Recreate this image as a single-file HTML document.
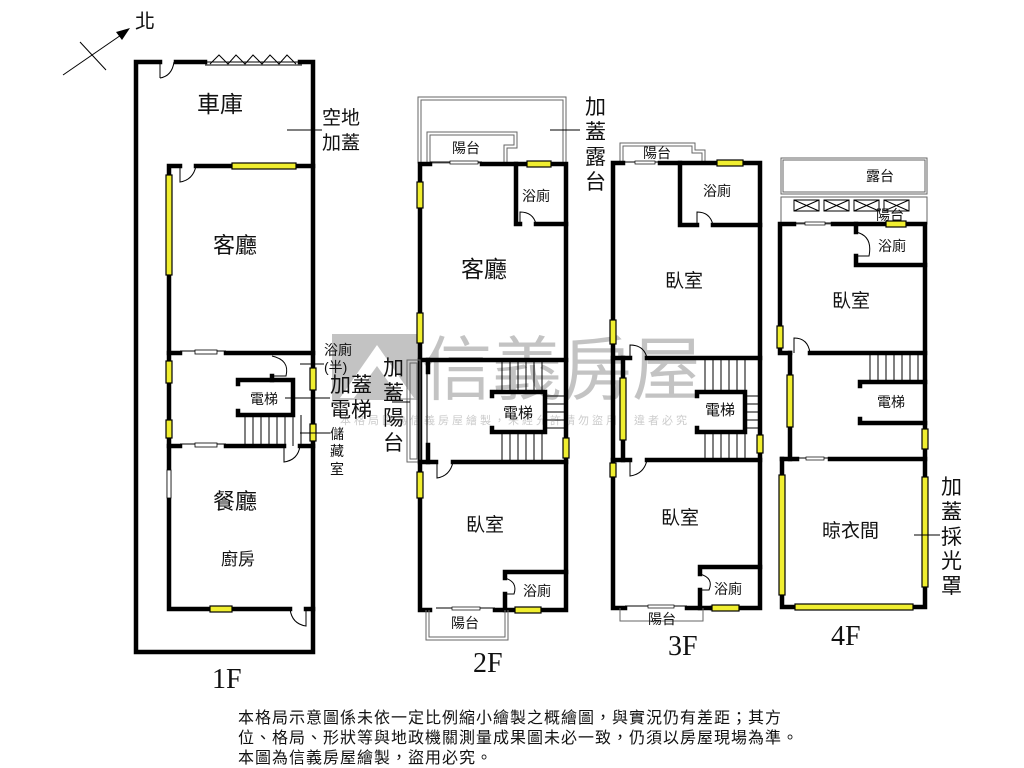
<!DOCTYPE html>
<html><head><meta charset="utf-8"><style>
html,body{margin:0;padding:0;background:#fff}
svg{display:block}
text{font-family:"Liberation Sans","Noto Sans CJK TC",sans-serif;fill:#111}
.w{stroke:#000;stroke-width:4.5;fill:none;stroke-linecap:square}
.t{stroke:#000;stroke-width:1;fill:none}
.g{stroke:#666;stroke-width:1;fill:none}
.y{fill:#f0ee30;stroke:#000;stroke-width:1.2}
.s{stroke:#000;stroke-width:1}
.fl{font-family:"Liberation Serif",serif;font-size:28px}
</style></head><body>
<svg width="1024" height="768" viewBox="0 0 1024 768" xmlns="http://www.w3.org/2000/svg">
<rect width="1024" height="768" fill="#fff"/>
<line x1="63" y1="75" x2="124" y2="33" class="s" stroke-width="2"/>
<polygon points="130,28 116,32 122,40" fill="#000"/>
<line x1="80" y1="42" x2="106" y2="70" class="s" stroke-width="2"/>
<text x="135" y="28" font-size="20">北</text>

<g opacity="0.5">
<rect x="332" y="334" width="90" height="66" fill="#888"/>
<polygon points="340,398 377,345 414,398 400,398 377,366 354,398" fill="#fff"/>
<text x="422" y="394" font-size="70" style="fill:#888">信義房屋</text>
<text x="340" y="424" font-size="11" style="fill:#999" letter-spacing="3">本格局圖為信義房屋繪製，未經允許請勿盜用，違者必究</text>
</g>

<path class="w" d="M160,62 H136 V652 H313 V62 H300"/>
<line x1="176" y1="62" x2="205" y2="62" class="w"/>
<path class="t" d="M160,62 V78 M160,78 Q172,76 174,62"/>
<line x1="205" y1="62" x2="302" y2="62" class="t"/><line x1="205" y1="65" x2="302" y2="65" class="t"/>
<polyline class="t" points="210,64 219,55 228,64 236,55 245,64 253,55 262,64 270,55 279,64 287,55 296,64"/>
<path class="w" d="M180,166 H169 V609 H290"/>
<line x1="196" y1="166" x2="313" y2="166" class="w"/>
<path class="t" d="M180,166 V182 Q193,180 196,166"/>
<rect class="y" x="232" y="163" width="64" height="6"/>
<rect class="y" x="166" y="175" width="6" height="100"/>
<line class="w" x1="226" y1="353" x2="313" y2="353"/>
<line class="w" x1="169" y1="353" x2="180" y2="353"/>
<line class="t" x1="180" y1="351" x2="226" y2="351"/><rect x="195" y="350" width="22" height="4" fill="#fff" stroke="#000" stroke-width="0.8"/>
<rect class="y" x="166" y="361" width="6" height="22"/>
<rect class="y" x="166" y="420" width="6" height="18"/>
<rect x="167" y="470" width="4" height="28" fill="#fff" stroke="#000" stroke-width="0.8"/>
<rect class="y" x="310" y="368" width="6" height="22"/>
<rect class="y" x="310" y="424" width="6" height="17"/>
<path class="t" d="M272,356 Q290,360 286,376 L272,376"/>
<line class="w" x1="272" y1="376" x2="272" y2="380"/>
<path class="w" d="M238,384 V380 H293 V415 H238 V411"/>
<text x="250" y="404" font-size="14">電梯</text>
<line class="t" x1="285" y1="398" x2="330" y2="398"/>
<g class="t">
<line x1="245" y1="415" x2="245" y2="446"/><line x1="253" y1="415" x2="253" y2="446"/><line x1="261" y1="415" x2="261" y2="446"/><line x1="269" y1="415" x2="269" y2="446"/><line x1="277" y1="415" x2="277" y2="446"/><line x1="285" y1="415" x2="285" y2="446"/><line x1="293" y1="415" x2="293" y2="446"/><line x1="301" y1="415" x2="301" y2="446"/>
</g>
<line class="w" x1="226" y1="446" x2="284" y2="446"/>
<line class="w" x1="169" y1="446" x2="180" y2="446"/>
<line class="w" x1="300" y1="446" x2="313" y2="446"/>
<line class="t" x1="180" y1="444" x2="226" y2="444"/><rect x="195" y="443" width="22" height="4" fill="#fff" stroke="#000" stroke-width="0.8"/>
<path class="t" d="M284,446 V462 Q298,460 300,446"/>
<line class="t" x1="300" y1="433" x2="330" y2="433"/>
<rect class="y" x="210" y="606" width="22" height="6"/>
<line class="w" x1="306" y1="609" x2="313" y2="609"/>
<path class="t" d="M306,609 V626 Q292,624 290,609"/>
<text x="197" y="112" font-size="23">車庫</text>
<line class="t" x1="287" y1="130" x2="322" y2="130"/>
<text x="322" y="124" font-size="19">空地</text>
<text x="322" y="149" font-size="19">加蓋</text>
<text x="213" y="253" font-size="22">客廳</text>
<text x="213" y="509" font-size="22">餐廳</text>
<text x="221" y="565" font-size="17">廚房</text>
<line class="t" x1="300" y1="364" x2="324" y2="364"/>
<text x="324" y="355" font-size="14">浴廁</text>
<text x="324" y="372" font-size="14">(半)</text>
<text x="330" y="392" font-size="21">加蓋</text>
<text x="330" y="417" font-size="21">電梯</text>
<text x="330" y="439" font-size="14">儲</text>
<text x="330" y="456" font-size="14">藏</text>
<text x="330" y="474" font-size="14">室</text>
<text x="212" y="688" class="fl">1F</text>

<rect x="418" y="97" width="148" height="66" class="g"/>
<rect x="421" y="100" width="142" height="63" class="g"/>
<path class="g" d="M427,163 V132 H517 V148 H507 V163"/>
<path class="g" d="M430,163 V135 H514 V145 H504 V163"/>
<text x="452" y="153" font-size="14">陽台</text>
<path class="w" d="M430,164 H420 V610 H430"/>
<line class="t" x1="430" y1="162" x2="482" y2="162"/><rect x="450" y="161" width="28" height="3" fill="#fff" stroke="#000" stroke-width="0.7"/>
<path class="w" d="M482,164 H566 V610 H527"/>
<rect class="y" x="527" y="161" width="24" height="6"/>
<rect class="y" x="417" y="182" width="6" height="26"/>
<rect class="y" x="417" y="313" width="6" height="30"/>
<path class="w" d="M516,164 V224 H520"/>
<line class="w" x1="536" y1="224" x2="566" y2="224"/>
<path class="t" d="M520,224 V212 Q533,212 536,224"/>
<text x="522" y="201" font-size="14">浴廁</text>
<text x="461" y="277" font-size="23">客廳</text>
<line class="w" x1="420" y1="360" x2="566" y2="360"/>
<rect x="407" y="360" width="13" height="102" class="g"/>
<rect x="410" y="363" width="7" height="96" class="g"/>
<line class="t" x1="392" y1="402" x2="410" y2="402"/>
<line class="w" x1="428" y1="360" x2="428" y2="372"/>
<line class="w" x1="428" y1="445" x2="428" y2="462"/>
<line class="t" x1="427" y1="372" x2="427" y2="445"/>
<g class="t">
<line x1="502" y1="360" x2="502" y2="392"/><line x1="510" y1="360" x2="510" y2="392"/><line x1="518" y1="360" x2="518" y2="392"/><line x1="526" y1="360" x2="526" y2="392"/><line x1="534" y1="360" x2="534" y2="392"/><line x1="542" y1="360" x2="542" y2="392"/>
<line x1="545" y1="396" x2="566" y2="396"/><line x1="545" y1="404" x2="566" y2="404"/><line x1="545" y1="412" x2="566" y2="412"/><line x1="545" y1="420" x2="566" y2="420"/><line x1="545" y1="428" x2="566" y2="428"/>
<line x1="502" y1="432" x2="502" y2="462"/><line x1="510" y1="432" x2="510" y2="462"/><line x1="518" y1="432" x2="518" y2="462"/><line x1="526" y1="432" x2="526" y2="462"/><line x1="534" y1="432" x2="534" y2="462"/><line x1="542" y1="432" x2="542" y2="462"/>
</g>
<path class="w" d="M492,396 V392 H545 V432 H492 V428"/>
<text x="503" y="418" font-size="15">電梯</text>
<rect class="y" x="563" y="438" width="6" height="20"/>
<line class="w" x1="420" y1="462" x2="436" y2="462"/>
<line class="w" x1="453" y1="462" x2="566" y2="462"/>
<path class="t" d="M437,462 V478 Q450,476 453,462"/>
<rect class="y" x="417" y="472" width="6" height="26"/>
<text x="466" y="531" font-size="19">臥室</text>
<path class="w" d="M505,578 V572 H566"/>
<line class="w" x1="505" y1="594" x2="505" y2="610"/>
<path class="t" d="M505,578 Q518,582 514,594 L505,594"/>
<text x="523" y="596" font-size="14">浴廁</text>
<line class="t" x1="436" y1="608" x2="495" y2="608"/><rect x="452" y="607" width="28" height="3" fill="#fff" stroke="#000" stroke-width="0.7"/>
<line class="w" x1="495" y1="610" x2="527" y2="610"/>
<rect class="y" x="515" y="607" width="26" height="6"/>
<path class="g" d="M426,610 V640 H508 V610"/><path class="g" d="M429,610 V637 H505 V610"/>
<text x="451" y="628" font-size="14">陽台</text>
<text x="585" y="114" font-size="21">加</text>
<text x="585" y="139" font-size="21">蓋</text>
<text x="585" y="164" font-size="21">露</text>
<text x="585" y="189" font-size="21">台</text>
<line class="t" x1="550" y1="130" x2="580" y2="130"/>
<text x="383" y="375" font-size="21">加</text>
<text x="383" y="400" font-size="21">蓋</text>
<text x="383" y="425" font-size="21">陽</text>
<text x="383" y="450" font-size="21">台</text>
<text x="473" y="672" class="fl">2F</text>

<path class="g" d="M620,163 V143 H695 V150 H705 V163"/><path class="g" d="M623,163 V146 H692 V153 H702 V163"/>
<text x="643" y="158" font-size="14">陽台</text>
<path class="w" d="M623,163 H613 V608 H625"/>
<line class="t" x1="625" y1="162" x2="660" y2="162"/><rect x="635" y="161" width="20" height="3" fill="#fff" stroke="#000" stroke-width="0.7"/>
<path class="w" d="M660,163 H760 V608 H712"/>
<rect class="y" x="717" y="160" width="26" height="6"/>
<path class="w" d="M680,163 V225 H697"/>
<line class="w" x1="713" y1="225" x2="760" y2="225"/>
<path class="t" d="M697,225 V212 Q710,212 713,225"/>
<text x="703" y="196" font-size="14">浴廁</text>
<text x="665" y="287" font-size="19">臥室</text>
<rect class="y" x="610" y="320" width="6" height="24"/>
<line class="w" x1="613" y1="358" x2="630" y2="358"/>
<line class="w" x1="647" y1="358" x2="760" y2="358"/>
<path class="t" d="M630,358 V345 Q644,345 647,358"/>
<line class="w" x1="623" y1="358" x2="623" y2="460"/>
<rect class="y" x="620" y="378" width="6" height="62"/>
<g class="t">
<line x1="705" y1="358" x2="705" y2="392"/><line x1="713" y1="358" x2="713" y2="392"/><line x1="721" y1="358" x2="721" y2="392"/><line x1="729" y1="358" x2="729" y2="392"/><line x1="737" y1="358" x2="737" y2="392"/><line x1="745" y1="358" x2="745" y2="392"/>
<line x1="745" y1="396" x2="760" y2="396"/><line x1="745" y1="404" x2="760" y2="404"/><line x1="745" y1="412" x2="760" y2="412"/><line x1="745" y1="420" x2="760" y2="420"/><line x1="745" y1="428" x2="760" y2="428"/>
<line x1="705" y1="432" x2="705" y2="460"/><line x1="713" y1="432" x2="713" y2="460"/><line x1="721" y1="432" x2="721" y2="460"/><line x1="729" y1="432" x2="729" y2="460"/><line x1="737" y1="432" x2="737" y2="460"/><line x1="745" y1="432" x2="745" y2="460"/>
</g>
<path class="w" d="M697,396 V392 H745 V432 H697 V428"/>
<text x="705" y="415" font-size="15">電梯</text>
<rect class="y" x="757" y="435" width="6" height="18"/>
<line class="w" x1="613" y1="460" x2="630" y2="460"/>
<line class="w" x1="647" y1="460" x2="760" y2="460"/>
<path class="t" d="M630,460 V476 Q644,474 647,460"/>
<rect class="y" x="610" y="463" width="6" height="14"/>
<text x="661" y="524" font-size="19">臥室</text>
<path class="w" d="M700,574 V567 H760"/>
<line class="w" x1="700" y1="590" x2="700" y2="608"/>
<path class="t" d="M700,574 Q714,578 709,590 L700,590"/>
<text x="714" y="594" font-size="14">浴廁</text>
<line class="t" x1="625" y1="606" x2="687" y2="606"/><rect x="648" y="605" width="26" height="3" fill="#fff" stroke="#000" stroke-width="0.7"/>
<line class="w" x1="687" y1="608" x2="712" y2="608"/>
<rect class="y" x="712" y="605" width="27" height="6"/>
<path class="g" d="M620,608 V621 H703 V608"/>
<text x="648" y="624" font-size="14">陽台</text>
<text x="668" y="655" class="fl">3F</text>

<rect x="781" y="158" width="146" height="36" class="g"/><rect x="783" y="160" width="142" height="32" class="g"/>
<text x="866" y="181" font-size="14">露台</text>
<rect x="781" y="197" width="146" height="27" class="g"/>
<g class="t">
<rect x="794" y="200" width="25" height="11"/><line x1="794" y1="200" x2="819" y2="211"/><line x1="794" y1="211" x2="819" y2="200"/>
<rect x="824" y="200" width="25" height="11"/><line x1="824" y1="200" x2="849" y2="211"/><line x1="824" y1="211" x2="849" y2="200"/>
<rect x="854" y="200" width="25" height="11"/><line x1="854" y1="200" x2="879" y2="211"/><line x1="854" y1="211" x2="879" y2="200"/>
<rect x="884" y="200" width="25" height="11"/><line x1="884" y1="200" x2="909" y2="211"/><line x1="884" y1="211" x2="909" y2="200"/>
</g>
<text x="876" y="220" font-size="14">陽台</text>
<path class="w" d="M794,224 H780 V353 H790"/>
<line class="t" x1="794" y1="223" x2="833" y2="223"/><rect x="805" y="222" width="20" height="3" fill="#fff" stroke="#000" stroke-width="0.7"/>
<path class="w" d="M833,224 H925 V607 H782 V459"/>
<rect class="y" x="886" y="221" width="20" height="6"/>
<path class="w" d="M856,232 V224 M856,256 V265 H925"/>
<path class="t" d="M856,232 Q873,236 869,256 L856,256"/>
<text x="878" y="251" font-size="14">浴廁</text>
<text x="832" y="307" font-size="19">臥室</text>
<rect class="y" x="777" y="326" width="6" height="22"/>
<line class="w" x1="810" y1="353" x2="925" y2="353"/>
<path class="t" d="M794,353 V338 Q808,338 810,353"/>
<line class="w" x1="790" y1="353" x2="790" y2="459"/>
<rect class="y" x="787" y="375" width="6" height="52"/>
<g class="t">
<line x1="870" y1="355" x2="870" y2="382"/><line x1="878" y1="355" x2="878" y2="382"/><line x1="886" y1="355" x2="886" y2="382"/><line x1="894" y1="355" x2="894" y2="382"/><line x1="902" y1="355" x2="902" y2="382"/><line x1="910" y1="355" x2="910" y2="382"/><line x1="918" y1="355" x2="918" y2="382"/>
</g>
<path class="w" d="M860,386 V382 H925 M860,419 V423 H925"/>
<text x="877" y="407" font-size="14">電梯</text>
<rect class="y" x="922" y="429" width="6" height="20"/>
<line class="w" x1="782" y1="459" x2="797" y2="459"/>
<line class="t" x1="797" y1="458" x2="830" y2="458"/><rect x="806" y="457" width="18" height="3" fill="#fff" stroke="#000" stroke-width="0.7"/>
<line class="w" x1="830" y1="459" x2="925" y2="459"/>
<rect class="y" x="779" y="475" width="6" height="120"/>
<rect class="y" x="922" y="477" width="6" height="110"/>
<rect class="y" x="795" y="604" width="118" height="6"/>
<text x="822" y="537" font-size="19">晾衣間</text>
<line class="t" x1="914" y1="535" x2="940" y2="535"/>
<text x="941" y="494" font-size="21">加</text>
<text x="941" y="519" font-size="21">蓋</text>
<text x="941" y="544" font-size="21">採</text>
<text x="941" y="568" font-size="21">光</text>
<text x="941" y="593" font-size="21">罩</text>
<text x="831" y="645" class="fl">4F</text>

<text x="238" y="723" font-size="16" letter-spacing="1">本格局示意圖係未依一定比例縮小繪製之概繪圖，與實況仍有差距；其方</text>
<text x="238" y="743" font-size="16" letter-spacing="1">位、格局、形狀等與地政機關測量成果圖未必一致，仍須以房屋現場為準。</text>
<text x="238" y="763" font-size="16" letter-spacing="1">本圖為信義房屋繪製，盜用必究。</text>
</svg>
</body></html>
